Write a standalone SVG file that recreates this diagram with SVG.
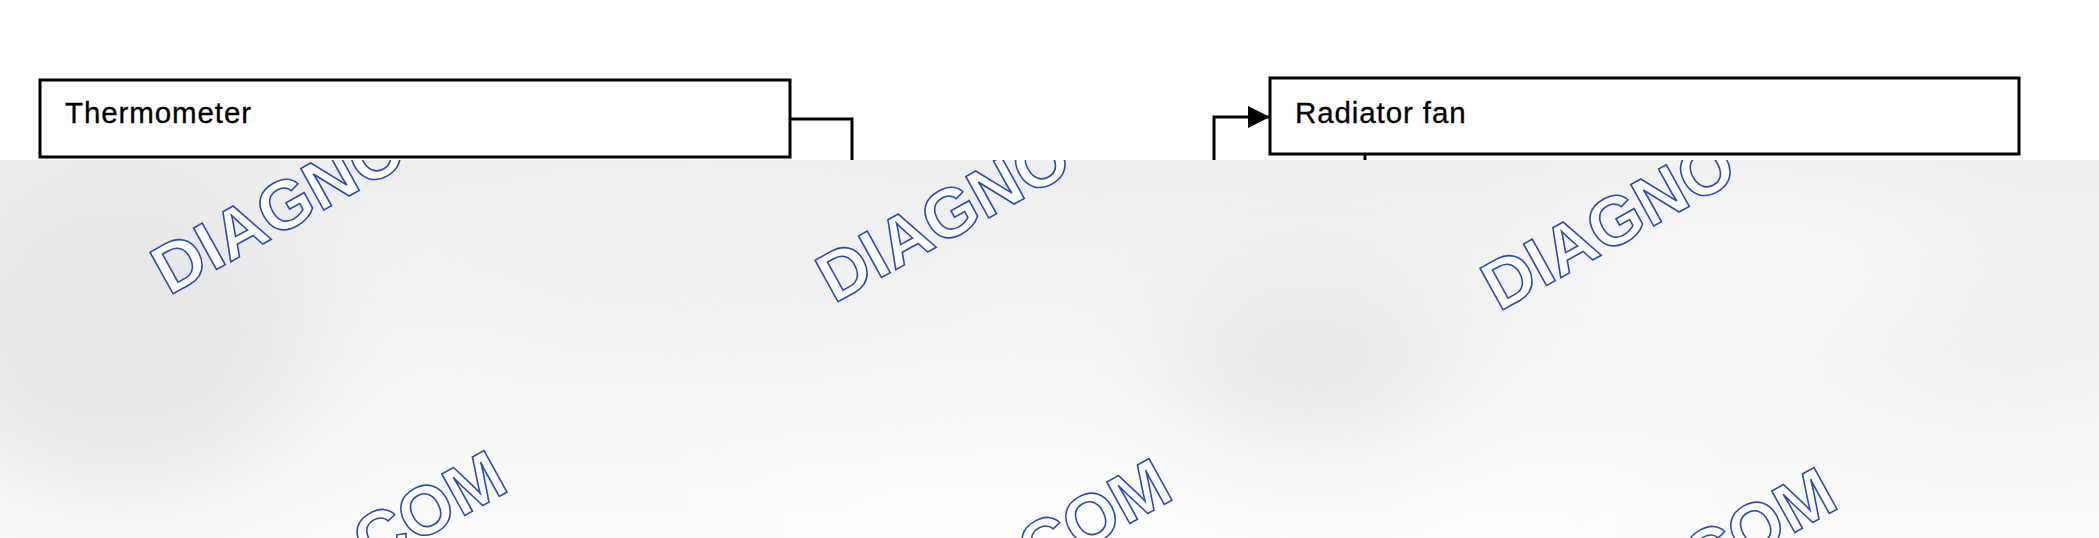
<svg xmlns="http://www.w3.org/2000/svg" width="2099" height="538" viewBox="0 0 2099 538">
  <style>
    .box { fill: #ffffff; stroke: #000000; stroke-width: 3; }
    .label { font-family: "Liberation Sans", Arial, sans-serif; font-size: 29.5px; letter-spacing: 0.9px; fill: #000000; stroke: #000000; stroke-width: 0.3; }
    .wire { fill: none; stroke: #000000; stroke-width: 3; }
    .wm { font-family: "Liberation Sans", Arial, sans-serif; font-weight: bold; font-size: 69px; fill: #ffffff; stroke: #2b4cae; stroke-width: 1.6; }
  </style>
  <defs>
    <marker id="arrow" viewBox="0 0 22 22" refX="22" refY="11" markerWidth="22" markerHeight="22" markerUnits="userSpaceOnUse" orient="auto">
      <path d="M0,0 L22,11 L0,22 Z" fill="#000000"/>
    </marker>
    <clipPath id="shade">
      <rect x="0" y="160" width="2099" height="378"/>
    </clipPath>
    <linearGradient id="shadeGrad" x1="0" y1="0" x2="0" y2="1">
      <stop offset="0" stop-color="#eeeeee"/>
      <stop offset="0.45" stop-color="#f4f4f4"/>
      <stop offset="1" stop-color="#fcfcfc"/>
    </linearGradient>
    <filter id="blur" x="-50%" y="-50%" width="200%" height="200%">
      <feGaussianBlur stdDeviation="60"/>
    </filter>
  </defs>

  <rect x="0" y="0" width="2099" height="538" fill="#ffffff"/>

  <g id="connectors">
    <path class="wire" d="M790,119 H852 V168"/>
    <path class="wire" d="M1214,168 V117 H1270" marker-end="url(#arrow)"/>
    <path class="wire" d="M1365,154 V164" stroke-width="1.5"/>
  </g>

  <g id="thermometer">
    <rect class="box" x="40" y="80" width="750" height="77"/>
    <text class="label" x="65" y="123">Thermometer</text>
  </g>

  <g id="radiator-fan">
    <rect class="box" x="1270" y="78" width="749" height="76"/>
    <text class="label" x="1295" y="123">Radiator fan</text>
  </g>

  <g id="shade-overlay" clip-path="url(#shade)">
    <rect x="0" y="160" width="2099" height="378" fill="url(#shadeGrad)"/>
    <g filter="url(#blur)">
      <ellipse cx="120" cy="330" rx="200" ry="170" fill="#e7e7ea"/>
      <ellipse cx="1310" cy="370" rx="150" ry="90" fill="#e7e7e7"/>
      <ellipse cx="700" cy="260" rx="260" ry="80" fill="#f0f0f0"/>
      <ellipse cx="2000" cy="330" rx="180" ry="70" fill="#eeeeee"/>
      <ellipse cx="1200" cy="520" rx="500" ry="60" fill="#ffffff"/>
      <ellipse cx="1750" cy="270" rx="200" ry="60" fill="#f9f9f9"/>
    </g>
  </g>

  <g id="watermark" clip-path="url(#shade)">
    <text class="wm" transform="translate(169,296) rotate(-29)">DIAGNO</text>
    <text class="wm" transform="translate(834,304) rotate(-29)">DIAGNO</text>
    <text class="wm" transform="translate(1499,312) rotate(-29)">DIAGNO</text>
    <text class="wm" text-anchor="end" transform="translate(511,490) rotate(-29)">COM</text>
    <text class="wm" text-anchor="end" transform="translate(1176,498) rotate(-29)">COM</text>
    <text class="wm" text-anchor="end" transform="translate(1841,507) rotate(-29)">COM</text>
  </g>
</svg>
